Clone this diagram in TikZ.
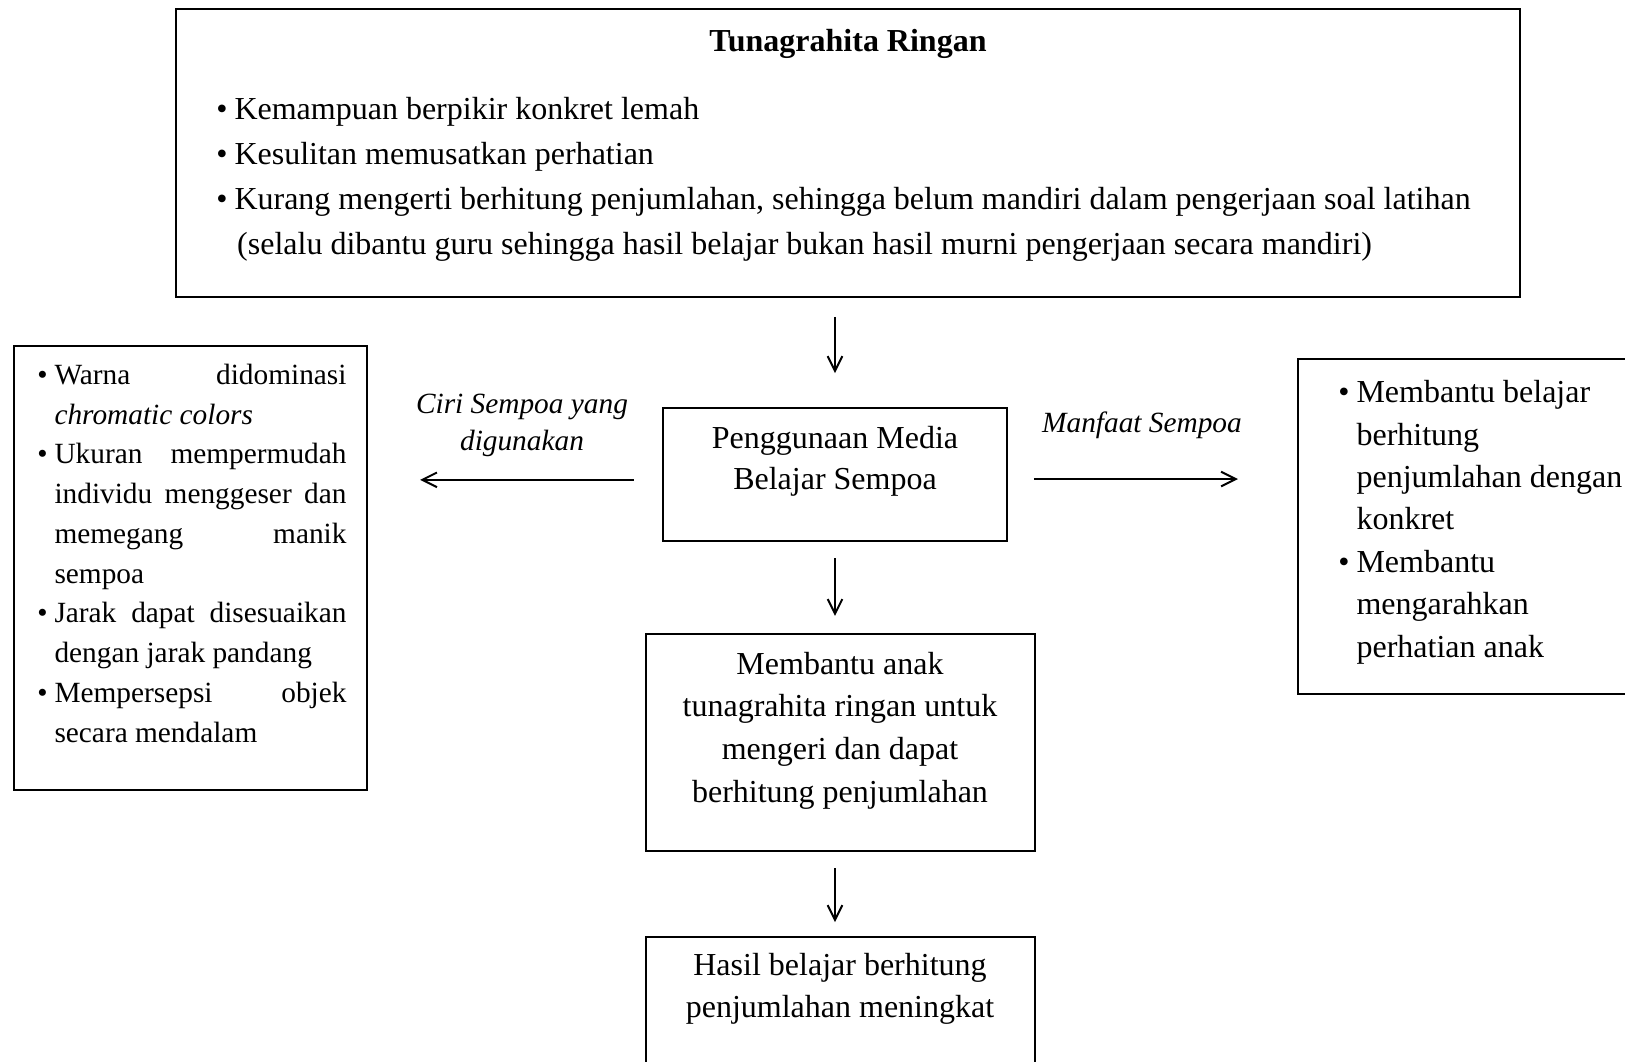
\documentclass[tikz,border=0pt]{standalone}
\usepackage{fontspec}
\setmainfont{Liberation Serif}
\usetikzlibrary{arrows.meta}
\newcommand\butir{\llap{\textbullet\hspace{2.6pt}}}

\begin{document}
\begin{tikzpicture}[x=0.375pt,y=-0.375pt,
  kotak/.style={draw,line width=0.75pt,inner sep=0pt,outer sep=0pt},
  teks/.style={inner sep=0pt,font=\fontsize{12}{15.8}\selectfont},
  panah/.style={line width=0.75pt,-{Straight Barb[length=5.5pt,width=5.5pt]}}]
\useasboundingbox (0,0) rectangle (1625,1062);

% kotak
\node [kotak,minimum width=504pt,minimum height=108pt] (ringan) at (848,153) {};
\node [kotak,minimum width=129pt,minimum height=49.9pt] (media) at (835,474.5) {};
\node [kotak,minimum width=132.2pt,minimum height=166.5pt] (ciri) at (190.75,568) {};
\node [kotak,minimum width=135.75pt,minimum height=125.6pt] (manfaat) at (1479,526.5) {};
\node [kotak,minimum width=145.9pt,minimum height=81.4pt] (bantu) at (840.5,742.5) {};
\node [kotak,minimum width=145.9pt,minimum height=57.4pt] (hasil) at (840.5,1013.5) {};

% isi (anchor base = baris terakhir)
\node [teks,anchor=base,font=\bfseries\fontsize{12}{15}\selectfont] (judul) at (848,52) {Tunagrahita Ringan};
\node [teks,anchor=base west,align=left,font=\fontsize{12}{16.9}\selectfont] (ringan-isi) at (234,255)
  {\butir Kemampuan berpikir konkret lemah\\
   \butir Kesulitan memusatkan perhatian\\
   \butir Kurang mengerti berhitung penjumlahan, sehingga belum mandiri dalam pengerjaan soal latihan\\
   \hspace*{1pt}(selalu dibantu guru sehingga hasil belajar bukan hasil murni pengerjaan secara mandiri)};
\node [teks,anchor=base,align=center,font=\fontsize{12}{15.75}\selectfont] (media-isi) at (835,490)
  {Penggunaan Media\\ Belajar Sempoa};
\node [teks,anchor=base,align=center,font=\itshape\fontsize{11}{13.9}\selectfont] (ciri-lbl) at (522,451)
  {Ciri Sempoa yang\\ digunakan};
\node [teks,anchor=base,font=\itshape\fontsize{11}{13.9}\selectfont] (manfaat-lbl) at (1142,433) {Manfaat Sempoa};
\node [teks,anchor=base west,align=left,font=\fontsize{11}{14.9}\selectfont] (ciri-isi) at (54,742)
  {\butir\makebox[109.5pt][s]{Warna didominasi}\\
   \textit{chromatic colors}\\
   \butir\makebox[109.5pt][s]{Ukuran mempermudah}\\
   \makebox[109.5pt][s]{individu menggeser dan}\\
   \makebox[109.5pt][s]{memegang manik}\\
   sempoa\\
   \butir\makebox[109.5pt][s]{Jarak dapat disesuaikan}\\
   dengan jarak pandang\\
   \butir\makebox[109.5pt][s]{Mempersepsi objek}\\
   secara mendalam};
\node [teks,anchor=base west,align=left,font=\fontsize{12}{15.9}\selectfont] (manfaat-isi) at (1356,657)
  {\butir Membantu belajar\\ berhitung\\ penjumlahan dengan\\ konkret\\
   \butir Membantu\\ mengarahkan\\ perhatian anak};
\node [teks,anchor=base,align=center,font=\fontsize{12}{16}\selectfont] (bantu-isi) at (840,802)
  {Membantu anak\\ tunagrahita ringan untuk\\ mengeri dan dapat\\ berhitung penjumlahan};
\node [teks,anchor=base,align=center,font=\fontsize{12}{15.6}\selectfont] (hasil-isi) at (840,1017)
  {Hasil belajar berhitung\\ penjumlahan meningkat};

% panah
\draw [panah,shorten <=7.5pt,shorten >=13.1pt] (ringan.south -| media.north) -- (media.north);
\draw [panah,shorten <=6.4pt,shorten >=6.75pt] (media.south) -- (media.south |- bantu.north);
\draw [panah,shorten <=6.4pt,shorten >=5.6pt] (bantu.south -| media.south) -- (media.south |- hasil.north);
\draw [panah,shorten <=10.9pt,shorten >=19.9pt] ([yshift=-2pt]media.west) -- ([yshift=-2pt]media.west -| ciri.east);
\draw [panah,shorten <=10.1pt,shorten >=22.5pt] ([yshift=-1.7pt]media.east) -- ([yshift=-1.7pt]media.east -| manfaat.west);

\end{tikzpicture}
\end{document}
